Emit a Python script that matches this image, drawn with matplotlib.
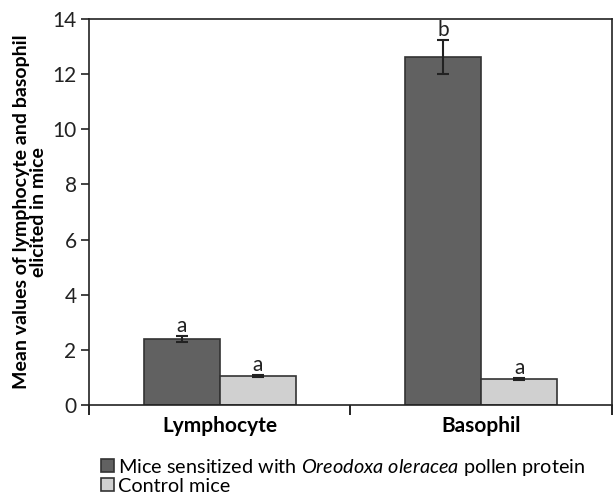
import numpy as np
import matplotlib
matplotlib.use("Agg")
import matplotlib.pyplot as plt
from matplotlib.patches import Patch
from matplotlib.ticker import FixedLocator

plt.rcParams['font.family'] = ['Lato', 'DejaVu Sans']
plt.rcParams['mathtext.fontset'] = 'custom'
plt.rcParams['mathtext.it'] = 'Lato:italic'
plt.rcParams['mathtext.rm'] = 'Lato'

# data
categories = ["Lymphocyte", "Basophil"]
sensitized = [2.40, 12.62]
sensitized_err = [0.12, 0.62]
control = [1.04, 0.95]
control_err = [0.04, 0.04]
sens_letters = ["a", "b"]
ctrl_letters = ["a", "a"]

dark = '#616161'
light = '#d0d0d0'
edge = '#333333'

fig = plt.figure(figsize=(6.13, 5.03), dpi=100)
ax = fig.add_axes([0.1452, 0.1948, 0.853, 0.7674])

x = np.arange(len(categories)) + 0.5
w = 0.29
ax.bar(x - w/2, sensitized, w, color=dark, edgecolor=edge, linewidth=1.2,
       yerr=sensitized_err, capsize=4, error_kw=dict(elinewidth=1.5, capthick=1.5, ecolor='#222222'))
ax.bar(x + w/2, control, w, color=light, edgecolor=edge, linewidth=1.2,
       yerr=control_err, capsize=4, error_kw=dict(elinewidth=1.5, capthick=1.5, ecolor='#222222'))

# significance letters
for xi, v, e, t in zip(x - w/2, sensitized, sensitized_err, sens_letters):
    ax.text(xi, v + e, t, ha='center', va='bottom', fontsize=15, color='#222222')
for xi, v, e, t in zip(x + w/2, control, control_err, ctrl_letters):
    ax.text(xi, v + e, t, ha='center', va='bottom', fontsize=15, color='#222222')

ax.set_xlim(0, 2)
ax.set_ylim(0, 14)
ax.set_yticks(np.arange(0, 15, 2))
ax.set_xticks(x)
ax.set_xticklabels(categories, fontsize=15, fontweight='bold')
ax.tick_params(axis='x', which='major', length=0, pad=8)
ax.xaxis.set_minor_locator(FixedLocator([0, 1, 2]))
ax.tick_params(axis='x', which='minor', length=7, width=1.2, direction='out')
ax.tick_params(axis='y', labelsize=15, length=6, width=1.2, pad=3, colors='#222222')
for s in ax.spines.values():
    s.set_linewidth(1.2)
    s.set_color('#222222')

ax.set_ylabel("Mean values of lymphocyte and basophil\nelicited in mice",
              fontsize=14, fontweight='bold', labelpad=4, linespacing=1.0)

handles = [Patch(facecolor=dark, edgecolor=edge, linewidth=1.2),
           Patch(facecolor=light, edgecolor=edge, linewidth=1.2)]
labels = ["Mice sensitized with $\\it{Oreodoxa\\ oleracea}$ pollen protein", "Control mice"]
fig.legend(handles, labels, loc='upper left', bbox_to_anchor=(0.165, 0.092),
           frameon=False, fontsize=14.3, handlelength=0.65, handleheight=0.65,
           handletextpad=0.2, labelspacing=0.0, borderaxespad=0, borderpad=0)

fig.savefig("out.png", dpi=100)
